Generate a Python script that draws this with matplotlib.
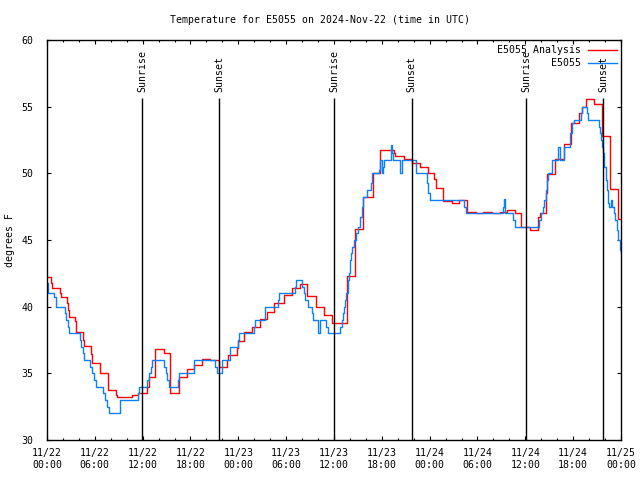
import datetime as dt
import matplotlib
matplotlib.use('Agg')
import matplotlib.pyplot as plt
import matplotlib.dates as mdates
import numpy as np

# hours after 2024-11-22 00:00 UTC, step values (deg F)
obs_hours = [0.0, 0.1, 0.9, 1.1, 2.2, 2.4, 2.6, 2.75, 4.1, 4.3, 4.5, 4.7, 5.4, 5.6, 5.9, 6.2,
             7.05, 7.3, 7.55, 7.8, 9.2, 11.4, 11.6, 12.6, 12.8, 13.0, 13.2, 14.7, 14.9, 15.1,
             15.3, 16.4, 16.5, 18.4, 18.5, 21.1, 21.3, 22.0, 22.9, 23.0, 24.0, 24.1, 26.0,
             26.1, 27.3, 27.4, 29.0, 29.1, 31.1, 31.2, 32.0, 32.2, 32.4, 32.7, 33.3, 33.4,
             34.05, 34.25, 35.0, 35.2, 36.8, 36.95, 37.1, 37.25, 37.4, 37.55, 37.7, 37.8,
             37.9, 37.95, 38.0, 38.1, 38.3, 38.5, 38.7, 39.05, 39.25, 39.5, 39.7, 40.1,
             40.65, 40.8, 41.65, 41.8, 42.0, 42.2, 42.3, 43.15, 43.3, 43.45, 44.3, 44.5,
             46.25, 47.7, 47.85, 48.1, 52.35, 52.5, 57.2, 57.3, 57.4, 57.5, 58.5, 58.7,
             61.7, 61.95, 62.25, 62.4, 62.55, 62.7, 62.8, 63.3, 63.4, 64.05, 64.3, 64.8,
             64.9, 65.6, 65.8, 66.15, 67.0, 67.15, 67.7, 67.8, 69.25, 69.4, 69.5, 69.65,
             69.75, 69.9, 70.1, 70.25, 70.4, 70.5, 70.75, 70.9, 71.15, 71.3, 71.45, 71.6,
             71.9, 72.0]
obs_temps = [41.75, 41.0, 40.75, 40.0, 39.5, 39.0, 38.5, 38.0, 37.5, 37.0, 36.5, 36.0, 35.5,
             35.0, 34.5, 34.0, 33.5, 33.0, 32.5, 32.0, 33.0, 33.5, 34.0, 34.5, 35.0, 35.5,
             36.0, 35.5, 35.0, 34.5, 34.0, 34.5, 35.0, 35.5, 36.0, 35.5, 35.0, 36.0, 36.5,
             37.0, 37.5, 38.0, 38.5, 39.0, 39.5, 40.0, 40.5, 41.0, 41.5, 42.0, 41.5, 41.0,
             40.5, 40.0, 39.5, 39.0, 38.0, 39.0, 38.5, 38.0, 38.5, 39.0, 39.5, 40.0, 40.5,
             41.0, 41.5, 42.0, 42.5, 43.0, 43.5, 44.0, 44.5, 45.0, 45.5, 46.0, 46.75, 47.5,
             48.25, 48.75, 49.25, 50.0, 50.25, 51.0, 50.0, 50.5, 51.0, 52.1, 51.5, 51.0,
             50.0, 51.0, 50.0, 49.25, 48.5, 48.0, 47.5, 47.0, 47.5, 48.1, 47.5, 47.0, 46.5,
             46.0, 46.5, 47.0, 47.5, 48.0, 48.75, 49.5, 50.0, 50.5, 51.0, 52.0, 51.0, 51.5,
             52.0, 53.0, 53.75, 54.0, 54.5, 55.0, 54.5, 54.0, 53.5, 53.0, 52.5, 52.0, 51.5,
             50.5, 49.5, 48.75, 47.75, 47.5, 48.0, 47.5, 47.0, 46.5, 45.75, 45.0, 44.25,
             44.0]

ana_hours = [0.0, 0.54, 0.67, 1.6, 1.7, 2.47, 2.6, 2.7, 3.55, 3.64, 3.7, 4.5, 4.64, 5.5, 5.7,
             6.6, 6.7, 7.65, 7.7, 8.7, 8.8, 10.7, 11.45, 12.6, 12.8, 13.6, 14.7, 15.4, 16.5,
             17.5, 18.4, 19.5, 20.5, 21.6, 22.6, 22.75, 23.8, 24.0, 24.7, 25.75, 26.7, 27.55,
             28.5, 29.7, 30.7, 31.7, 32.6, 33.7, 34.75, 35.7, 37.6, 38.6, 39.7, 40.85, 41.8,
             43.5, 43.7, 44.8, 45.75, 46.8, 47.8, 48.6, 48.8, 49.7, 50.75, 51.7, 52.7, 53.8,
             54.7, 55.8, 56.8, 57.75, 58.7, 59.5, 60.6, 61.6, 61.9, 62.55, 62.7, 63.7, 64.8,
             64.9, 65.7, 66.7, 67.15, 67.6, 68.65, 69.65, 70.6, 71.6, 72.0]
ana_temps = [42.2, 41.8, 41.4, 41.0, 40.7, 40.3, 39.75, 39.25, 38.9, 38.5, 38.1, 37.5, 37.05,
             36.45, 35.8, 35.35, 35.0, 34.3, 33.75, 33.4, 33.2, 33.4, 33.55, 34.0, 34.75, 36.8,
             36.5, 33.5, 34.75, 35.35, 35.6, 36.1, 36.0, 35.5, 36.0, 36.4, 36.9, 37.4, 38.1,
             38.5, 39.05, 39.6, 40.3, 40.9, 41.4, 41.7, 40.8, 39.95, 39.4, 38.75, 42.3, 45.8,
             48.25, 50.0, 51.75, 51.55, 51.3, 51.05, 50.75, 50.45, 50.0, 49.55, 48.9, 47.95,
             47.8, 48.0, 47.1, 47.0, 47.1, 47.0, 47.1, 47.25, 47.0, 46.0, 45.75, 46.75, 47.05,
             48.5, 49.95, 51.05, 51.7, 52.2, 53.75, 54.5, 54.95, 55.55, 55.2, 52.8, 48.8, 46.6,
             46.6]

sun_hours = [11.95, 21.6, 36.05, 45.75, 60.1, 69.8]
sun_labels = ['Sunrise', 'Sunset', 'Sunrise', 'Sunset', 'Sunrise', 'Sunset']

start = mdates.date2num(dt.datetime(2024, 11, 22))


def to_dates(hours):
    return start + np.asarray(hours) / 24.0


plt.rcParams['font.family'] = 'DejaVu Sans Mono'
plt.rcParams['font.size'] = 7.1

fig = plt.figure(figsize=(6.4, 4.8), dpi=100)
ax = fig.add_axes([47 / 640, 40 / 480, 574 / 640, 400 / 480])

red = '#ff0000'
blue = '#0a80ff'

ax.step(to_dates(ana_hours), ana_temps, where='post', color=red, lw=1.0)
ax.step(to_dates(obs_hours), obs_temps, where='post', color=blue, lw=1.0)

for h, lab in zip(sun_hours, sun_labels):
    x = to_dates([h])[0]
    ax.vlines(x, 30, 55.65, color='black', lw=1.0)
    ax.text(x, 56.1, lab, rotation=90, ha='center', va='bottom')

ax.set_xlim(to_dates([0])[0], to_dates([72])[0])
ax.set_ylim(30, 60)
ax.set_yticks([30, 35, 40, 45, 50, 55, 60])
ax.xaxis.set_major_locator(mdates.HourLocator(byhour=[0, 6, 12, 18]))
ax.xaxis.set_minor_locator(mdates.HourLocator(byhour=range(0, 24, 2)))
ax.xaxis.set_major_formatter(mdates.DateFormatter('%m/%d\n%H:%M'))
ax.tick_params(which='major', direction='in', length=3.0, width=0.8,
               top=True, right=True)
ax.tick_params(which='minor', direction='in', length=1.6, width=0.8, top=True)
ax.tick_params(axis='x', pad=6)
ax.tick_params(axis='y', pad=10)
for s in ax.spines.values():
    s.set_linewidth(1.0)

# legend drawn by hand, text right-aligned like the original
ax.text(581 / 640 * 640 / 574 - 47 / 574, 1 - 10 / 400, 'E5055 Analysis',
        transform=ax.transAxes, ha='right', va='center')
ax.text(581 / 640 * 640 / 574 - 47 / 574, 1 - 23 / 400, 'E5055',
        transform=ax.transAxes, ha='right', va='center')
ax.plot([(588 - 47) / 574, (617 - 47) / 574], [1 - 10 / 400] * 2, color=red, lw=1.0,
        transform=ax.transAxes)
ax.plot([(588 - 47) / 574, (617 - 47) / 574], [1 - 23 / 400] * 2, color=blue, lw=1.0,
        transform=ax.transAxes)

fig.text(0.5, 1 - 20 / 480, 'Temperature for E5055 on 2024-Nov-22 (time in UTC)',
         ha='center', va='center')
fig.text(10 / 640, 0.5, 'degrees F', rotation=90, ha='center', va='center')

fig.savefig('out.png', dpi=100)
